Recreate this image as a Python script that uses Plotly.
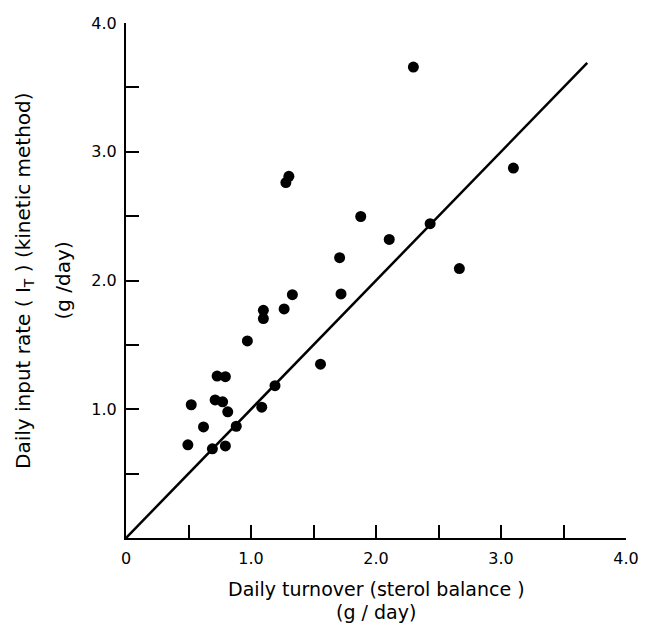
import plotly.graph_objects as go

# Data
turnover_x = [0.495, 0.522, 0.620, 0.691, 0.713, 0.729, 0.773, 0.795, 0.795, 0.814,
              0.882, 0.971, 1.086, 1.099, 1.099, 1.192, 1.265, 1.279, 1.303, 1.331,
              1.556, 1.709, 1.720, 1.878, 2.106, 2.299, 2.433, 2.667, 3.099]
input_rate_y = [0.724, 1.035, 0.863, 0.693, 1.072, 1.258, 1.058, 1.253, 0.715, 0.980,
                0.868, 1.531, 1.016, 1.768, 1.704, 1.183, 1.779, 2.761, 2.809, 1.890,
                1.350, 2.177, 1.896, 2.497, 2.319, 3.658, 2.441, 2.093, 2.873]
identity_x = [0.0, 3.69]
identity_y = [0.0, 3.69]

x_tick_vals = [0, 1.0, 2.0, 3.0, 4.0]
x_tick_text = ["0", "1.0", "2.0", "3.0", "4.0"]
y_tick_vals = [1.0, 2.0, 3.0, 4.0]
y_tick_text = ["1.0", "2.0", "3.0", "4.0"]

FONT = "DejaVu Sans"

fig = go.Figure()
fig.add_trace(go.Scatter(x=identity_x, y=identity_y, mode="lines",
                         line=dict(color="black", width=2.5), showlegend=False,
                         hoverinfo="skip"))
fig.add_trace(go.Scatter(x=turnover_x, y=input_rate_y, mode="markers",
                         marker=dict(color="black", size=11), showlegend=False))

axis_common = dict(range=[0, 4], ticks="inside", ticklen=13,
                   tickwidth=2, tickcolor="black", showline=True, linecolor="black",
                   linewidth=2, showgrid=False, zeroline=False,
                   minor=dict(ticks="inside", ticklen=13, tickwidth=2, tickcolor="black",
                              tick0=0, dtick=0.5, showgrid=False),
                   tickfont=dict(family=FONT, size=16, color="black"))

fig.update_xaxes(tickvals=x_tick_vals, ticktext=x_tick_text, ticklabelstandoff=5, **axis_common)
fig.update_yaxes(tickvals=y_tick_vals, ticktext=y_tick_text, ticklabelstandoff=4, **axis_common)

annots = [
    dict(text="Daily turnover (sterol balance )", x=0.5, y=-0.0990, textangle=0, size=19),
    dict(text="(g / day)", x=0.5, y=-0.1437, textangle=0, size=19),
    dict(text="Daily input rate ( I<sub>T</sub> ) (kinetic method)", x=-0.205, y=0.5, textangle=-90, size=20),
    dict(text="(g /day)", x=-0.128, y=0.5, textangle=-90, size=20),
]
for a in annots:
    size = a.pop("size")
    fig.add_annotation(xref="paper", yref="paper", showarrow=False,
                       xanchor="center", yanchor="middle",
                       font=dict(family=FONT, size=size, color="black"), **a)

fig.update_layout(width=651, height=624, margin=dict(l=126, r=18, t=23, b=86),
                  plot_bgcolor="white", paper_bgcolor="white")

fig.write_html("out.html", config={"displayModeBar": False},
               post_script="document.body.style.margin='0';document.body.style.overflow='hidden';")
